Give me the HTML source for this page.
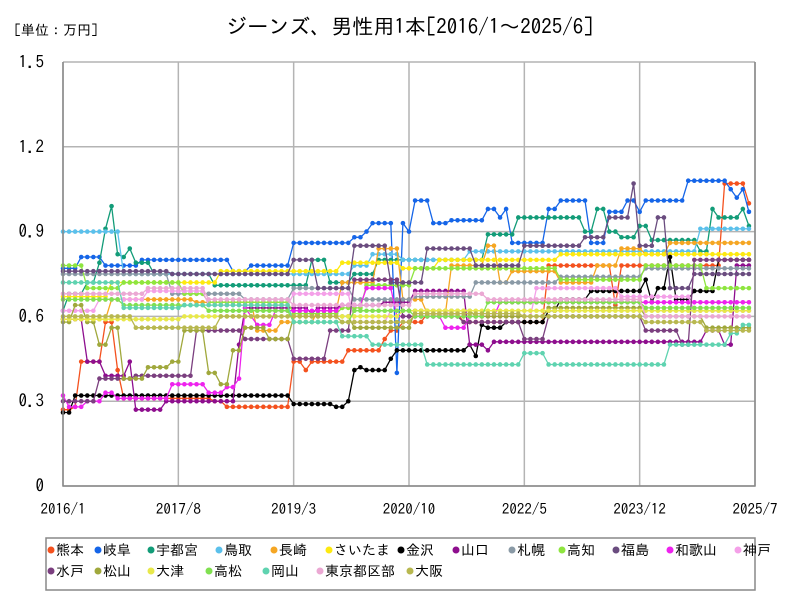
<!DOCTYPE html>
<html><head><meta charset="utf-8">
<style>
body{margin:0;background:#fff;font-family:"Liberation Sans","IPAGothic","Noto Sans CJK JP",sans-serif;}
#wrap{position:relative;width:800px;height:600px;overflow:hidden;}
svg text{font-family:"IPAGothic","Noto Sans CJK JP",sans-serif;}
</style></head>
<body>
<div id="wrap">
<svg id="svg" width="800" height="600" xmlns="http://www.w3.org/2000/svg">
<text x="14" y="35" font-size="14">[単位：万円]</text>
<text x="410" y="34" font-size="21" text-anchor="middle">ジーンズ、男性用1本[2016/1～2025/6]</text>
<g id="grid"></g><g id="series"></g><g id="axes"></g>
<rect x="46" y="538" width="709" height="52" fill="none" stroke="#888" stroke-width="1.5"/>
<g id="legend"></g>
</svg>
</div>
<script>
const names=["熊本","岐阜","宇都宮","鳥取","長崎","さいたま","金沢","山口","札幌","高知","福島","和歌山","神戸","水戸","松山","大津","高松","岡山","東京都区部","大阪"];
const colors=["#f4511e","#1565e8","#129c78","#5bc0eb","#f5a623","#fde910","#000000","#8e0e8e","#8a9aa6","#8ee53f","#6a4c7f","#ee22ee","#f4a0e8","#7b3f7f","#a0a83c","#e8e84a","#80e050","#5fd3b0","#eba8d3","#b8b850"];
const yTicks=[0,0.3,0.6,0.9,1.2,1.5];
const yTickLabels=["0","0.3","0.6","0.9","1.2","1.5"];
const xTicks=[0,19,38,57,76,95,114];
const xTickLabels=["2016/1","2017/8","2019/3","2020/10","2022/5","2023/12","2025/7"];
// run-length [value, months] per series, starting 2016/1
const s熊本=[[0.27,2],[0.28,1],[0.44,4],[0.58,2],[0.41,1],[0.31,15],[0.30,2],[0.28,11],[0.44,2],[0.41,1],[0.44,6],[0.48,6],[0.52,1],[0.55,2],[0.58,4],[0.61,6],[0.58,14],[0.78,11],[0.64,1],[0.78,17],[1.07,4],[1.0,1]];
const s岐阜=[[0.77,3],[0.81,4],[0.78,6],[0.8,15],[0.76,3],[0.78,7],[0.86,10],[0.88,2],[0.9,1],[0.93,4],[0.4,1],[0.93,1],[0.9,1],[1.01,3],[0.93,3],[0.94,6],[0.98,2],[0.95,1],[0.98,1],[0.86,6],[0.98,2],[1.01,5],[0.86,3],[0.97,3],[1.01,2],[0.97,1],[1.01,7],[1.08,7],[1.05,1],[1.02,1],[1.05,1],[0.97,1]];
const s宇都宮=[[0.62,1],[0.68,3],[0.72,2],[0.79,1],[0.91,1],[0.99,1],[0.82,1],[0.81,1],[0.84,1],[0.79,3],[0.75,10],[0.71,16],[0.8,3],[0.72,4],[0.75,4],[0.8,18],[0.89,5],[0.95,11],[0.9,2],[0.98,2],[0.9,2],[0.88,3],[0.92,2],[0.87,8],[0.83,2],[0.98,1],[0.95,4],[0.98,1],[0.92,1]];
const s鳥取=[[0.9,10],[0.75,38],[0.78,3],[0.82,5],[0.8,11],[0.83,38],[0.91,9]];
const s長崎=[[0.59,8],[0.66,14],[0.65,10],[0.55,4],[0.58,6],[0.62,4],[0.72,6],[0.84,4],[0.66,4],[0.61,4],[0.78,6],[0.85,2],[0.72,2],[0.76,8],[0.72,6],[0.78,4],[0.84,4],[0.82,4],[0.86,14]];
const sさいたま=[[0.67,8],[0.72,18],[0.76,20],[0.79,10],[0.77,6],[0.8,20],[0.82,32]];
const s金沢=[[0.26,2],[0.32,36],[0.29,7],[0.28,2],[0.3,1],[0.41,1],[0.42,1],[0.41,4],[0.45,1],[0.48,12],[0.5,1],[0.46,1],[0.57,1],[0.56,3],[0.58,7],[0.62,2],[0.66,5],[0.69,9],[0.73,1],[0.65,1],[0.7,2],[0.81,1],[0.66,3],[0.69,4],[0.8,6]];
const s山口=[[0.59,4],[0.44,3],[0.39,4],[0.44,1],[0.27,5],[0.3,12],[0.5,1],[0.63,11],[0.61,1],[0.63,4],[0.64,7],[0.65,5],[0.69,9],[0.5,3],[0.48,1],[0.51,35],[0.55,3],[0.5,2],[0.78,3]];
const s札幌=[[0.75,18],[0.68,12],[0.66,8],[0.7,10],[0.66,10],[0.67,10],[0.72,14],[0.74,14],[0.77,18]];
const s高知=[[0.78,4],[0.7,6],[0.72,10],[0.68,4],[0.65,14],[0.61,8],[0.63,4],[0.71,8],[0.77,24],[0.73,14],[0.78,10],[0.7,8]];
const s福島=[[0.76,18],[0.75,20],[0.8,4],[0.7,6],[0.85,6],[0.72,6],[0.84,8],[0.78,8],[0.85,10],[0.88,4],[0.95,4],[1.07,1],[0.85,3],[0.95,2],[0.7,4],[0.75,10]];
const s和歌山=[[0.32,1],[0.28,3],[0.3,3],[0.33,2],[0.31,9],[0.36,6],[0.33,3],[0.35,2],[0.38,1],[0.63,1],[0.6,1],[0.57,3],[0.62,11],[0.64,4],[0.7,5],[0.6,8],[0.56,4],[0.6,5],[0.65,42]];
const s神戸=[[0.62,6],[0.66,8],[0.69,10],[0.64,14],[0.68,10],[0.58,6],[0.62,10],[0.6,14],[0.7,14],[0.67,12],[0.62,10]];
const s水戸=[[0.3,6],[0.38,6],[0.39,10],[0.55,8],[0.52,8],[0.45,6],[0.55,4],[0.73,8],[0.6,10],[0.58,10],[0.52,4],[0.6,16],[0.55,6],[0.5,2],[0.8,10]];
const s松山=[[0.58,2],[0.64,2],[0.58,2],[0.5,2],[0.56,2],[0.38,4],[0.42,4],[0.44,2],[0.55,4],[0.4,2],[0.36,2],[0.48,2],[0.56,4],[0.52,4],[0.6,10],[0.56,10],[0.62,10],[0.6,12],[0.63,16],[0.6,10],[0.56,8]];
const s大津=[[0.59,20],[0.6,36],[0.62,58]];
const s高松=[[0.66,10],[0.64,14],[0.62,14],[0.58,10],[0.62,10],[0.6,12],[0.65,26],[0.63,18]];
const s岡山=[[0.72,10],[0.63,10],[0.64,18],[0.58,8],[0.53,5],[0.5,9],[0.43,16],[0.47,4],[0.43,20],[0.5,10],[0.54,2],[0.57,2]];
const s東京都区部=[[0.68,14],[0.7,10],[0.66,14],[0.64,20],[0.68,12],[0.66,26],[0.6,18]];
const s大阪=[[0.6,12],[0.56,14],[0.6,20],[0.58,12],[0.61,18],[0.6,20],[0.58,10],[0.55,8]];
const seriesData=[s熊本,s岐阜,s宇都宮,s鳥取,s長崎,sさいたま,s金沢,s山口,s札幌,s高知,s福島,s和歌山,s神戸,s水戸,s松山,s大津,s高松,s岡山,s東京都区部,s大阪];

const NS="http://www.w3.org/2000/svg";
const L=63,R=755,T=62,B=486,NM=114,YMAX=1.5;
const xS=i=>L+i*(R-L)/NM;
const yS=v=>B-v*(B-T)/YMAX;
function mk(tag,attrs,parent){const e=document.createElementNS(NS,tag);for(const k in attrs)e.setAttribute(k,attrs[k]);parent.appendChild(e);return e;}
const grid=document.getElementById('grid'),axes=document.getElementById('axes'),ser=document.getElementById('series'),leg=document.getElementById('legend');
yTicks.forEach((v,i)=>{
 const ln=mk('line',{x1:L,x2:R,y1:yS(v),y2:yS(v),stroke:'#b4b4b4','stroke-width':1.5},grid);
 
 
 const t=mk('text',{x:44,y:yS(v)+6,'font-size':17,'text-anchor':'end'},axes);
 t.textContent=yTickLabels[i];
 
 
});
xTicks.forEach((m,i)=>{
 const ln=mk('line',{x1:xS(m),x2:xS(m),y1:T,y2:B,stroke:'#b4b4b4','stroke-width':1.5},grid);
 
 
 const t=mk('text',{x:xS(m),y:514,'font-size':15,'text-anchor':'middle'},axes);
 t.textContent=xTickLabels[i];
 
 
});
const ax=mk('path',{d:`M${L},${T}V${B}H${R}V${T}`,fill:'none',stroke:'#888','stroke-width':1.5},axes);


seriesData.forEach((rl,si)=>{
 const vals=[];rl.forEach(([v,c])=>{for(let k=0;k<c;k++)vals.push(v);});
 const g=mk('g',{},ser);
 
 
 const pts=vals.map((v,i)=>xS(i).toFixed(1)+','+yS(v).toFixed(1)).join(' ');
 const pl=mk('polyline',{points:pts,fill:'none',stroke:colors[si],'stroke-width':1.3},g);
 
 
 vals.forEach((v,i)=>{
  const c=mk('circle',{cx:xS(i),cy:yS(v),r:2.3,fill:colors[si]},g);
  
  
 });
});
// legend
const row1=[55,102,155,223,278,333,405,460,516,566,620,674,742];
const row2=[55,102,155,213,270,324,414];
names.forEach((n,i)=>{
 const r=i<13?0:1;const x=r?row2[i-13]:row1[i];const y=r?576:555;
 const g=mk('g',{},leg);
 
 
 mk('circle',{cx:x-4,cy:y-5,r:3.5,fill:colors[i]},g);
 const t=mk('text',{x:x+1,y:y,'font-size':14},g);
 t.textContent=n;
});
</script>
</body></html>
